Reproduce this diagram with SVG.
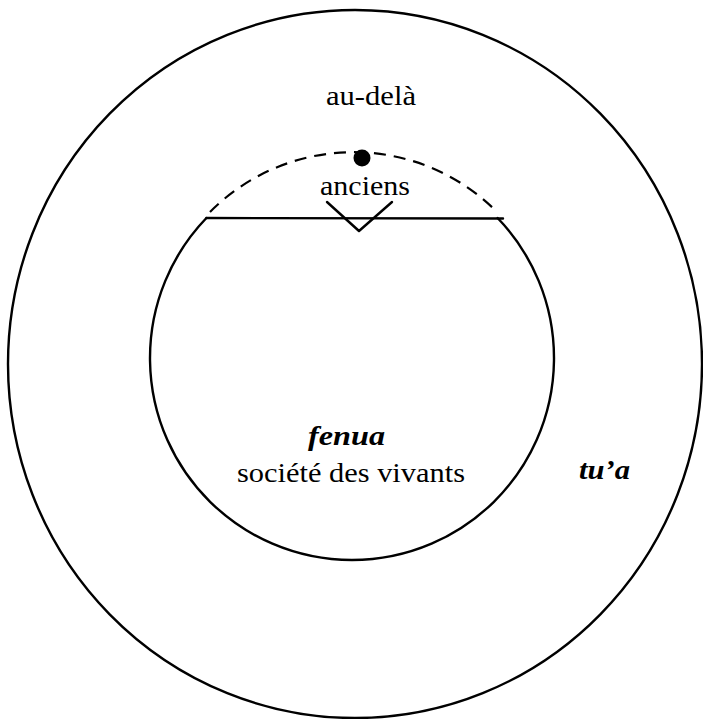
<svg xmlns="http://www.w3.org/2000/svg" width="703" height="719" viewBox="0 0 703 719">
<style>
.ln{fill:none;stroke:#000;stroke-width:2.4;stroke-linecap:round;stroke-linejoin:round}
.dash{fill:none;stroke:#000;stroke-width:2.2;stroke-dasharray:12 8}
.t{font-family:"Liberation Serif","Times New Roman",serif;font-size:28px;fill:#000}
.bi{font-style:italic;font-weight:bold}
</style>
<rect width="703" height="719" fill="#fff"/>
<g id="tua">
<ellipse class="ln" cx="355" cy="364" rx="347" ry="354"/>
<text class="t bi" x="579" y="479" textLength="51" lengthAdjust="spacingAndGlyphs">tu’a</text>
</g>
<g id="au-dela">
<text class="t" x="326" y="105" textLength="90" lengthAdjust="spacingAndGlyphs">au-delà</text>
</g>
<g id="fenua">
<path class="ln" d="M206.4,218 A202,202 0 1 0 497.6,218"/>
<line class="ln" x1="206.4" y1="218" x2="503" y2="218.5"/>
<text class="t bi" x="308" y="445" textLength="77" lengthAdjust="spacingAndGlyphs">fenua</text>
<text class="t" x="237" y="482" textLength="228" lengthAdjust="spacingAndGlyphs">société des vivants</text>
</g>
<g id="anciens">
<path class="dash" d="M210,212 A202,202 0 0 1 497,212"/>
<circle cx="362" cy="158" r="8.5" fill="#000"/>
<text class="t" x="320" y="195" textLength="90" lengthAdjust="spacingAndGlyphs">anciens</text>
</g>
<g id="connectors">
<polyline class="ln" points="327,202 359,231 392,202"/>
</g>
</svg>
